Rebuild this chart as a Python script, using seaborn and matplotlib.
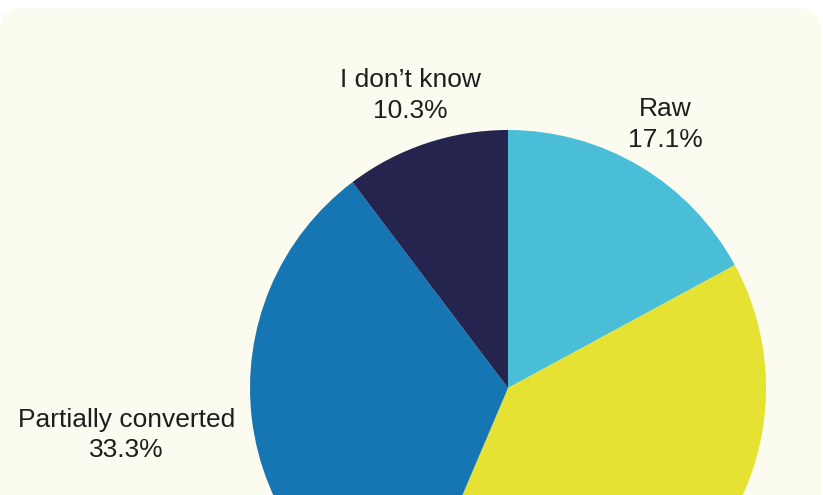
import numpy as np
import matplotlib
matplotlib.use("Agg")
import matplotlib.pyplot as plt
from matplotlib.patches import FancyBboxPatch
import seaborn as sns

# Survey shares by data state
categories = ["Raw", "Fully converted", "Partially converted", "I don\u2019t know"]
shares = [17.1, 39.3, 33.3, 10.3]
colors = ["#4abdd7", "#e6e234", "#1576b3", "#24244f"]
# how far each label sits from the centre, in radii (None = not shown)
label_dist = [1.19, None, 1.49, 1.195]

sns.set_theme(style="white")
plt.rcParams["font.family"] = ["Liberation Sans", "DejaVu Sans"]

W, H = 823, 495
fig = plt.figure(figsize=(W / 100, H / 100), dpi=100)
fig.patch.set_facecolor("white")

ax = fig.add_axes([0, 0, 1, 1])

cx, cy, r = 508, H - 388, 258
wedges, _ = ax.pie(shares, colors=colors, startangle=90, counterclock=False,
                   center=(cx, cy), radius=r, frame=True,
                   wedgeprops=dict(linewidth=0, zorder=2))
ax.set_xlim(0, W)
ax.set_ylim(0, H)
ax.set_aspect("equal")
ax.axis("off")

# rounded card behind the chart
ax.add_patch(FancyBboxPatch((0, -60), W - 2, H - 8 + 60,
                            boxstyle="round,pad=0,rounding_size=24",
                            facecolor="#fbfbf0", edgecolor="none", zorder=0))

for w, name, val, d in zip(wedges, categories, shares, label_dist):
    if d is None:
        continue
    ang = np.deg2rad((w.theta1 + w.theta2) / 2)
    x = cx + d * r * np.cos(ang)
    y = cy + d * r * np.sin(ang)
    ax.text(x, y, f"{name}\n{val:.1f}%", ha="center", va="center",
            fontsize=19, color="#1e1e1e", linespacing=1.35, zorder=3)

fig.savefig("out.png", dpi=100, facecolor="white")
